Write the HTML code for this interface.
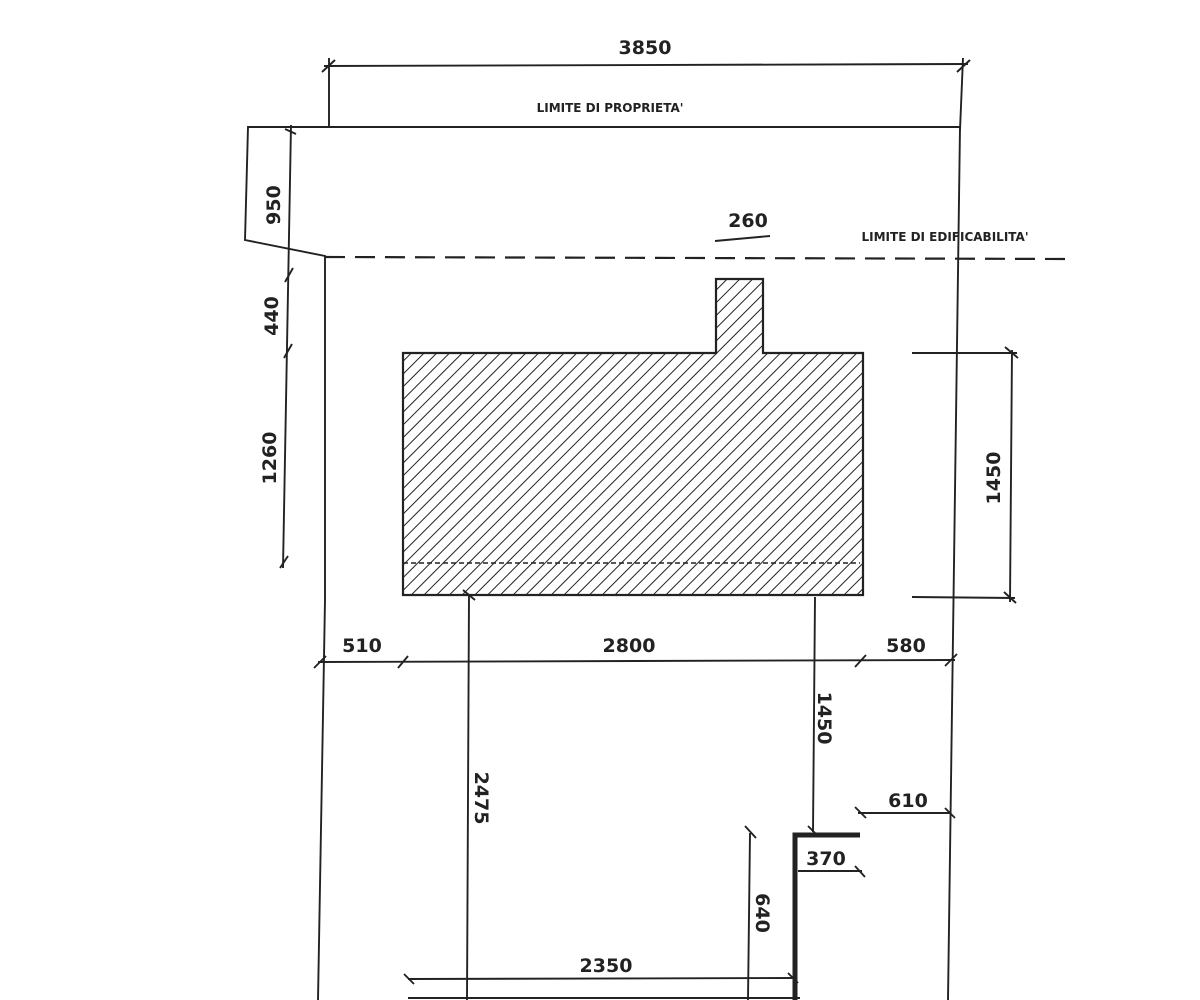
<!DOCTYPE html>
<html><head><style>html,body{margin:0;padding:0;background:#fff}svg{display:block}</style></head>
<body>
<svg width="1200" height="1000" viewBox="0 0 1200 1000" xmlns="http://www.w3.org/2000/svg" font-family="DejaVu Sans, Liberation Sans, sans-serif" font-weight="bold" fill="#222">
<defs>
<pattern id="h" patternUnits="userSpaceOnUse" width="9" height="9" patternTransform="rotate(45)">
<line x1="0" y1="0" x2="0" y2="9" stroke="#222" stroke-width="2"/>
</pattern>
</defs>
<g stroke="#222" stroke-width="1.9" fill="none">
<line x1="324" y1="66" x2="968" y2="64"/>
<line x1="329" y1="58" x2="329" y2="127"/>
<line x1="963" y1="58" x2="960" y2="130"/>
<line x1="322" y1="72" x2="335" y2="60"/><line x1="957" y1="72" x2="970" y2="60"/>
<polyline points="960,127 248,127 245,240 325,256 325,600 318,1000"/>
<line x1="960" y1="127" x2="948" y2="1000"/>
<line x1="291" y1="125" x2="283" y2="568"/>
<line x1="285" y1="129" x2="296" y2="134"/>
<line x1="285" y1="282" x2="293" y2="268"/>
<line x1="284" y1="358" x2="292" y2="344"/>
<line x1="280" y1="568" x2="288" y2="556"/>
<line x1="325" y1="257" x2="1075" y2="259" stroke-dasharray="20,10" stroke-width="2.2"/>
<line x1="715" y1="241" x2="770" y2="236"/>
<path d="M403,353 H716 V279 H763 V353 H863 V595 H403 Z" fill="url(#h)" stroke-width="2.2"/>
<line x1="403" y1="563" x2="860" y2="563" stroke-dasharray="5,3" stroke-width="1.4"/>
<line x1="912" y1="353" x2="1017" y2="353"/>
<line x1="912" y1="597" x2="1015" y2="598"/>
<line x1="1012" y1="350" x2="1010" y2="602"/>
<line x1="1005" y1="347" x2="1018" y2="358"/><line x1="1004" y1="592" x2="1016" y2="603"/>
<line x1="318" y1="662" x2="955" y2="660"/>
<line x1="314" y1="668" x2="326" y2="656"/>
<line x1="398" y1="668" x2="408" y2="656"/>
<line x1="855" y1="667" x2="866" y2="655"/>
<line x1="945" y1="666" x2="957" y2="654"/>
<line x1="469" y1="595" x2="467" y2="1000"/>
<line x1="815" y1="597" x2="813" y2="832"/>
<line x1="463" y1="590" x2="475" y2="600"/>
<line x1="808" y1="826" x2="818" y2="836"/>
<line x1="858" y1="813" x2="950" y2="813"/>
<line x1="855" y1="807" x2="866" y2="818"/><line x1="945" y1="808" x2="955" y2="818"/>
<polyline points="795,1000 795,835 860,835" stroke-width="5"/>
<line x1="798" y1="871" x2="862" y2="871"/>
<line x1="855" y1="866" x2="865" y2="877"/>
<line x1="750" y1="833" x2="748" y2="1000"/>
<line x1="745" y1="826" x2="756" y2="838"/>
<line x1="408" y1="979" x2="795" y2="978"/>
<line x1="404" y1="974" x2="414" y2="984"/><line x1="788" y1="973" x2="798" y2="983"/>
<line x1="408" y1="998" x2="800" y2="998"/>
</g>
<g font-size="19" text-anchor="middle">
<text x="645" y="54">3850</text>
<text x="362" y="652">510</text>
<text x="629" y="652">2800</text>
<text x="906" y="652">580</text>
<text x="748" y="227">260</text>
<text x="908" y="807">610</text>
<text x="826" y="865">370</text>
<text x="606" y="972">2350</text>
<text transform="translate(280,205) rotate(-90)">950</text>
<text transform="translate(278,316) rotate(-90)">440</text>
<text transform="translate(276,458) rotate(-90)">1260</text>
<text transform="translate(1000,478) rotate(-90)">1450</text>
<text transform="translate(818,718) rotate(90)">1450</text>
<text transform="translate(475,798) rotate(90)">2475</text>
<text transform="translate(756,913) rotate(90)">640</text>
</g>
<g font-size="12" text-anchor="middle">
<text x="610" y="112">LIMITE DI PROPRIETA'</text>
<text x="945" y="241">LIMITE DI EDIFICABILITA'</text>
</g>
</svg>
</body></html>
